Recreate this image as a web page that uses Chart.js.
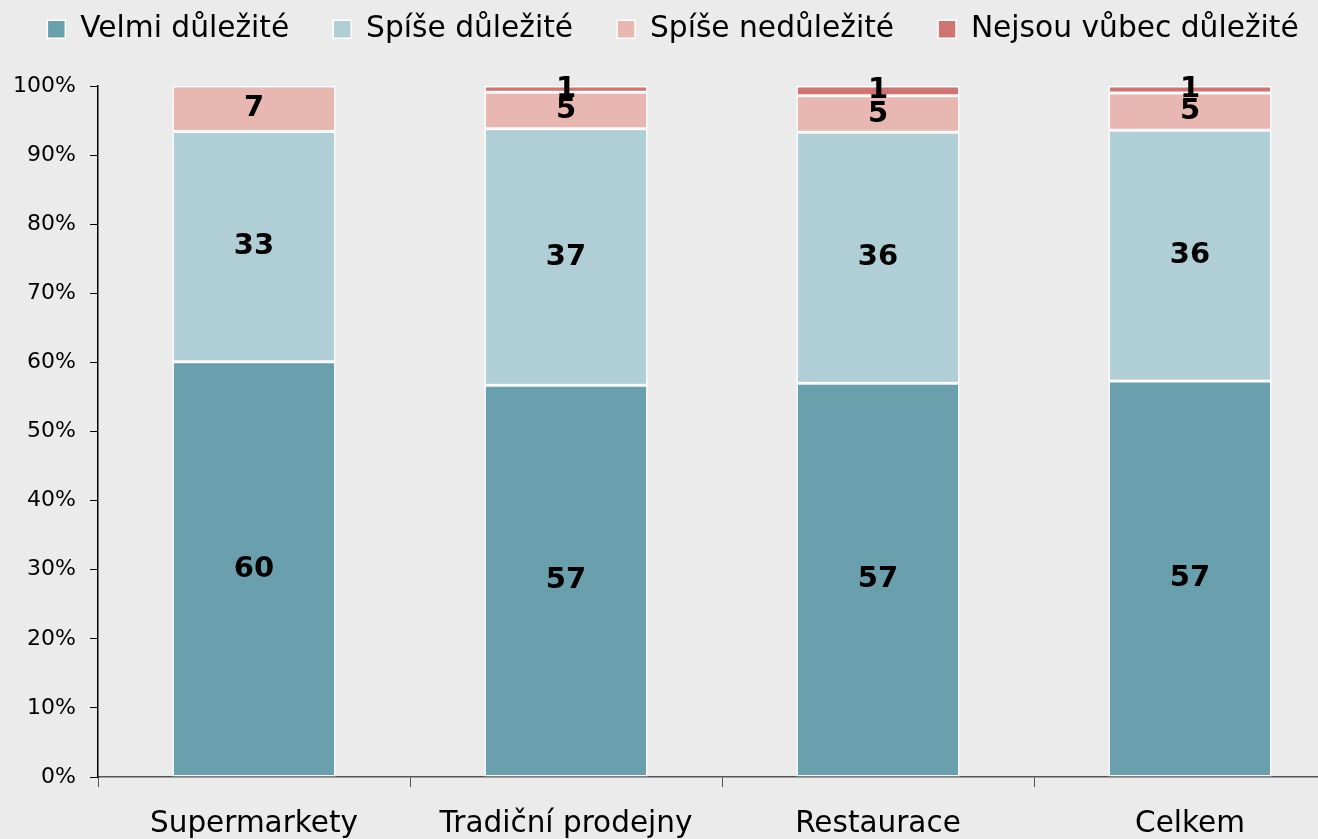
<!DOCTYPE html>
<html>
<head>
<meta charset="utf-8">
<script src="https://cdn.jsdelivr.net/npm/chart.js@4/dist/chart.umd.min.js"></script>
<style>
  html, body { margin: 0; padding: 0; background: #ebebeb; overflow: hidden; }
  #wrap { width: 1346px; height: 839px; }
</style>
</head>
<body>
<div id="wrap"><canvas id="chart"></canvas></div>
<script>
// Data (percent)
const categories = ["Supermarkety", "Tradiční prodejny", "Restaurace", "Celkem"];
const seriesNames = ["Velmi důležité", "Spíše důležité", "Spíše nedůležité", "Nejsou vůbec důležité"];
const velmi = [60.1, 56.7, 57.0, 57.3];
const spise = [33.3, 37.1, 36.3, 36.3];
const spiseNe = [6.6, 5.3, 5.3, 5.4];
const vubecNe = [0, 0.9, 1.4, 1.0];
const yTicks = [0, 10, 20, 30, 40, 50, 60, 70, 80, 90, 100];

const colors = ["#6a9fad", "#b0ced6", "#e8b7b2", "#cf7470"];
const series = [velmi, spise, spiseNe, vubecNe];

Chart.defaults.color = "#000";
Chart.defaults.font.family = '"DejaVu Sans", Verdana, sans-serif';

// value labels in the middle of each segment
const barLabels = {
    id: "barLabels",
    afterDatasetsDraw(chart) {
        const ctx = chart.ctx;
        ctx.save();
        ctx.font = 'bold 29px "DejaVu Sans", Verdana, sans-serif';
        ctx.fillStyle = "#000";
        ctx.textAlign = "center";
        ctx.textBaseline = "middle";
        chart.data.datasets.forEach((ds, i) => {
            chart.getDatasetMeta(i).data.forEach((bar, j) => {
                const v = ds.data[j];
                if (!v) return;
                ctx.fillText(Math.round(v), bar.x, (bar.y + bar.base) / 2);
            });
        });
        ctx.restore();
    }
};

// legend padding is large to spread the items; move the legend up again
const legendUp = {
    id: "legendUp",
    afterLayout(chart) {
        chart.legend.top -= 32;
        chart.legend.bottom -= 32;
    }
};

const ctx = document.getElementById("chart").getContext("2d");
new Chart(ctx, {
    type: "bar",
    data: {
        labels: categories,
        datasets: series.map((d, i) => ({
            label: seriesNames[i],
            data: d,
            backgroundColor: colors[i],
            borderColor: "#fff",
            borderWidth: 1.5,
            borderSkipped: false,
            categoryPercentage: 1,
            barPercentage: 0.523
        }))
    },
    plugins: [barLabels, legendUp],
    options: {
        responsive: true,
        maintainAspectRatio: false,
        animation: false,
        layout: { padding: 0 },
        plugins: {
            legend: {
                position: "top",
                labels: {
                    boxWidth: 18,
                    boxHeight: 18,
                    padding: 44,
                    font: { size: 29.7 }
                }
            },
            tooltip: { enabled: false }
        },
        scales: {
            x: {
                stacked: true,
                grid: { offset: true, drawOnChartArea: false, color: "#555", tickLength: 10 },
                border: { color: "#555", width: 1.5 },
                ticks: { font: { size: 29.5 }, padding: 20, maxRotation: 0 },
                afterFit: s => { s.height = 62; }
            },
            y: {
                stacked: true,
                min: 0,
                max: 100,
                afterBuildTicks: s => { s.ticks = yTicks.map(v => ({ value: v })); },
                grid: { drawOnChartArea: false, color: "#000", tickLength: 8 },
                border: { color: "#000", width: 1.5 },
                ticks: { font: { size: 22 }, padding: 14, callback: v => v + "%" },
                afterFit: s => { s.width = 98; s.paddingTop = 86; }
            }
        }
    }
});
</script>
</body>
</html>
